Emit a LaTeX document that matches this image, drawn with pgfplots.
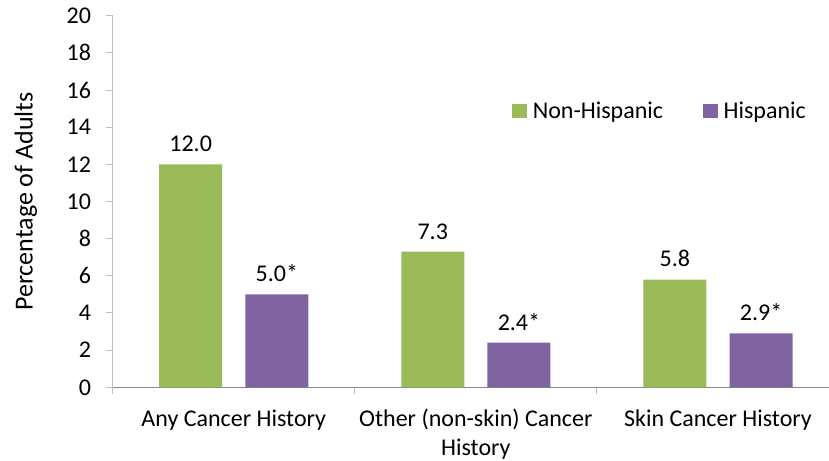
\documentclass[border=0pt]{standalone}
\usepackage{pgfplots}
\pgfplotsset{compat=1.18}
\usepackage{fontspec}
\setmainfont{Carlito}
\definecolor{cgreen}{HTML}{9BBB59}
\definecolor{cpurple}{HTML}{8064A2}
\definecolor{axgrey}{HTML}{868686}
\definecolor{ltgrey}{HTML}{BFBFBF}
\newcommand{\F}{\fontsize{24bp}{29bp}\selectfont}
\pgfplotstableread{
x y lab
-0.178 12.0 12.0
0.822 7.3 7.3
1.822 5.8 5.8
}\nonhisp
\pgfplotstableread{
x y lab
0.178 5.0 5.0*
1.178 2.4 2.4*
2.178 2.9 2.9*
}\hisp
\begin{document}
\begin{tikzpicture}
\useasboundingbox (0,0) rectangle (829bp,461bp);
\begin{axis}[
  at={(112.7bp,73.7bp)}, anchor=south west,
  scale only axis, width=726.3bp, height=371.6bp,
  xmin=-0.5, xmax=2.5, ymin=0, ymax=20,
  axis x line*=bottom, axis y line*=left,
  x axis line style={draw=axgrey, line width=1bp, -},
  y axis line style={draw=ltgrey, line width=1bp, -},
  tick align=outside, major tick length=7bp,
  tick style={draw=ltgrey, line width=1bp},
  ytick={0,2,...,20},
  xtick={-0.5,0.5,1.5,2.5}, xticklabels={,,,},
  extra x ticks={0,1,2},
  extra x tick labels={\strut Any Cancer History,{\strut Other (non-skin) Cancer\\History},\strut Skin Cancer History},
  extra x tick style={major tick length=0pt},
  /pgf/number format/assume math mode=true,
  yticklabel style={font=\F, anchor=east, inner sep=0pt, xshift=-14.5bp},
  xticklabel style={font=\F, align=center, anchor=north, inner sep=0pt, yshift=-18.4bp},
  ylabel={Percentage of Adults},
  ylabel style={font=\fontsize{26bp}{31bp}\selectfont, at={(axis description cs:-0.1195,0.5)}, anchor=center},
  nodes near coords,
  point meta=explicit symbolic,
  every node near coord/.append style={font=\F, anchor=base, inner sep=0pt, yshift=12.6bp, text=black},
  clip=false,
  legend columns=2,
  legend cell align=left,
  legend style={draw=none, fill=none, inner sep=0pt, outer sep=0pt,
    at={(axis description cs:0.5502,0.7435)}, anchor=west,
    font=\F, nodes={inner sep=0pt},
    /tikz/every odd column/.append style={column sep=6bp},
    /tikz/every even column/.append style={column sep=40bp}},
  legend image code/.code={\fill[#1] (0bp,-7.25bp) rectangle (14.5bp,7.25bp);},
]
\addplot[ybar, bar width=63bp, bar shift=0pt, fill=cgreen, draw=none]
  table[x=x, y=y, meta=lab]{\nonhisp};
\addlegendentry{Non-Hispanic}
\addplot[ybar, bar width=63bp, bar shift=0pt, fill=cpurple, draw=none]
  table[x=x, y=y, meta=lab]{\hisp};
\addlegendentry{Hispanic}
\end{axis}
\end{tikzpicture}
\end{document}
